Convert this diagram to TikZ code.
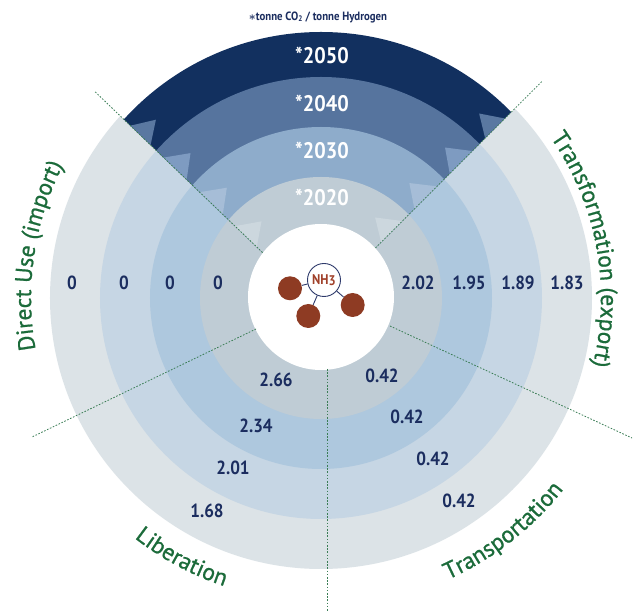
\documentclass[tikz,border=0pt]{standalone}
\usepackage{fontspec}
\setmainfont{PT Sans}
\newfontfamily\din{PT Sans}[FakeStretch=0.9]
\newfontfamily\labfam{PT Sans}[FakeBold=0.8]
\usetikzlibrary{decorations.text}
\definecolor{navy}{HTML}{12305F}
\definecolor{cforty}{HTML}{56749E}
\definecolor{cthirty}{HTML}{8EACCB}
\definecolor{ctwenty}{HTML}{BFCCD5}
\definecolor{sidefour}{HTML}{DCE3E7}
\definecolor{sidethree}{HTML}{C6D6E4}
\definecolor{sidetwo}{HTML}{AEC8DE}
\definecolor{trififty}{HTML}{5A78A1}
\definecolor{triforty}{HTML}{7E9BC1}
\definecolor{trithirty}{HTML}{A6BDD7}
\definecolor{tritwenty}{HTML}{CCD7DE}
\definecolor{numnavy}{HTML}{1B2D5F}
\definecolor{lgreen}{HTML}{1B6B3A}
\definecolor{dgreen}{HTML}{3A7D55}
\definecolor{brown}{HTML}{8E3B23}
\definecolor{molnavy}{HTML}{2E3A6B}
\definecolor{nhbrown}{HTML}{A0402A}
\newcommand\labfont{\labfam\fontsize{23.5}{23.5}\selectfont\color{lgreen}}
\begin{document}
\begin{tikzpicture}[x=1pt,y=1pt,
  numlab/.style={font=\din\bfseries\fontsize{19}{19}\selectfont, text=numnavy, inner sep=0pt},
  yearlab/.style={font=\din\bfseries\fontsize{22.5}{22.5}\selectfont, text=white, inner sep=0pt},
  sepline/.style={draw=dgreen, line width=0.8pt, dash pattern=on 1.6pt off 1.6pt},
  ball/.style={circle, fill=brown, minimum size=24pt, inner sep=0pt},
  bond/.style={draw=molnavy, line width=0.9pt},
  arclab/.style={decorate, decoration={text along path, text align=center, text={|\labfont|#1}}}
]
\useasboundingbox (-321,-314) rectangle (316,298);
\fill[white] (-321,-314) rectangle (316,298);
% side rings
\fill[sidefour] (0,0) circle[radius=271];
\fill[sidethree] (0,0) circle[radius=221];
\fill[sidetwo] (0,0) circle[radius=171];
\fill[ctwenty] (0,0) circle[radius=121];
% top sector
\begin{scope}
\clip (-3.2,-7.6) -- (-400,373.3) -- (-400,420) -- (400,420) -- (400,395.6) -- cycle;
\fill[white] (0,0) circle[radius=285];
\fill[navy] (0,0) circle[radius=266];
\fill[cforty] (0,0) circle[radius=221];
\fill[cthirty] (0,0) circle[radius=171];
\fill[ctwenty] (0,0) circle[radius=121];
% triangles
\fill[trififty] (137.9:257) -- (132.8:243) -- (138.1:229) -- cycle;
\fill[triforty] (138.3:211) -- (132.0:195) -- (138.65:179) -- cycle;
\fill[trithirty] (138.9:161) -- (130.5:145) -- (139.6:129) -- cycle;
\fill[tritwenty] (140.1:112) -- (127.8:97) -- (141.6:82) -- cycle;
\fill[trififty] (44.3:257) -- (49.4:243) -- (44.2:229) -- cycle;
\fill[triforty] (44.15:211) -- (50.5:195) -- (44.0:179) -- cycle;
\fill[trithirty] (43.9:161) -- (52.45:145) -- (43.6:129) -- cycle;
\fill[tritwenty] (43.4:112) -- (56.1:97) -- (42.8:82) -- cycle;
\end{scope}
% white centre
\fill[white] (0,1) circle[radius=73];
% separator lines
\coordinate (ulin) at (-58.4,45.4);  \coordinate (ulout) at (-226,206.3);
\coordinate (urin) at (54.5,50.1);   \coordinate (urout) at (220.7,216.3);
\coordinate (llin) at (-65,-31);     \coordinate (llout) at (-289,-139);
\coordinate (lrin) at (69,-28);      \coordinate (lrout) at (311,-140);
\coordinate (bin) at (6,-71);        \coordinate (bout) at (6,-314);
\draw[sepline] (ulin) -- (ulout);
\draw[sepline] (urin) -- (urout);
\draw[sepline] (llin) -- (llout);
\draw[sepline] (lrin) -- (lrout);
\draw[sepline] (bin) -- (bout);
% molecule
\node[ball] (lball) at (-31,9.7) {};
\node[ball] (bball) at (-12.7,-18) {};
\node[ball] (rball) at (31.7,-7) {};
\node[circle, draw=molnavy, line width=0.9pt, fill=white, minimum size=33pt, inner sep=0pt,
      font=\din\bfseries\fontsize{14}{14}\selectfont, text=nhbrown] (nh) at (3,18) {NH\raisebox{-1.2pt}{3}};
\draw[bond] (nh) -- (lball);
\draw[bond] (nh) -- (bball);
\draw[bond] (nh) -- (rball);
% title
\node[font=\din\bfseries\fontsize{12}{12}\selectfont, text=numnavy] (title) at (-3,281)
  {{\boldmath$\ast$}tonne CO\textsubscript{2} / tonne Hydrogen};
% years
\node[yearlab] (y50) at (1,243) {*2050};
\node[yearlab] (y40) at (1,195) {*2040};
\node[yearlab] (y30) at (1,148) {*2030};
\node[yearlab] (y20) at (1,101) {*2020};
% numbers left
\node[numlab] (dl1) at (-103,15) {0};
\node[numlab] (dl2) at (-151,15) {0};
\node[numlab] (dl3) at (-197,15) {0};
\node[numlab] (dl4) at (-249,15) {0};
% numbers right
\node[numlab] (tr1) at (97,15) {2.02};
\node[numlab] (tr2) at (148,15) {1.95};
\node[numlab] (tr3) at (197,15) {1.89};
\node[numlab] (tr4) at (246,15) {1.83};
% numbers bottom-left
\node[numlab] (lb1) at (-45,-82) {2.66};
\node[numlab] (lb2) at (-65,-128) {2.34};
\node[numlab] (lb3) at (-88,-170) {2.01};
\node[numlab] (lb4) at (-114,-213) {1.68};
% numbers bottom-right
\node[numlab] (tp1) at (61,-78) {0.42};
\node[numlab] (tp2) at (86,-119) {0.42};
\node[numlab] (tp3) at (112,-161) {0.42};
\node[numlab] (tp4) at (138,-203) {0.42};
% curved labels
\path[arclab={Direct Use (import)}] (200:290) arc[start angle=200, end angle=143, radius=290];
\path[arclab={Transformation (export)}] (45:280) arc[start angle=45, end angle=-24, radius=280];
\path[arclab={Liberation}] (225:304) arc[start angle=225, end angle=258.6, radius=304];
\path[arclab={Transportation}] (291:309) arc[start angle=291, end angle=325, radius=309];
\end{tikzpicture}
\end{document}
